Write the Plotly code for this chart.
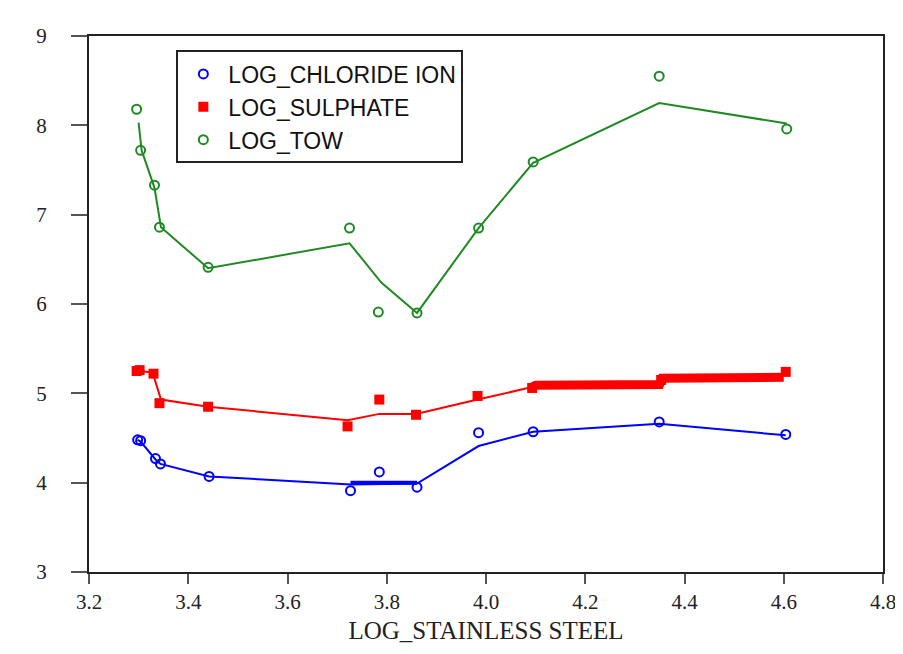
import plotly.graph_objects as go

# --- data ---
chl_x = [3.298, 3.304, 3.334, 3.344, 3.442, 3.727, 3.785, 3.861, 3.985, 4.095, 4.349, 4.604]
chl_y = [4.48, 4.47, 4.27, 4.21, 4.07, 3.91, 4.12, 3.95, 4.56, 4.57, 4.68, 4.54]
chl_fit_x = [3.298, 3.304, 3.334, 3.344, 3.442, 3.727, 3.861, 3.985, 4.095, 4.349, 4.604]
chl_fit_y = [4.48, 4.46, 4.26, 4.21, 4.07, 3.98, 3.99, 4.41, 4.57, 4.66, 4.53]
chl_band_x = [3.727, 3.861]
chl_band_y = [4.00, 4.00]

sul_x = [3.296, 3.302, 3.330, 3.342, 3.440, 3.721, 3.785, 3.859, 3.983, 4.093, 4.353, 4.604]
sul_y = [5.25, 5.26, 5.22, 4.89, 4.85, 4.63, 4.93, 4.76, 4.97, 5.06, 5.15, 5.24]
sul_fit_x = [3.298, 3.320, 3.330, 3.345, 3.440, 3.721, 3.785, 3.859, 3.983, 4.093]
sul_fit_y = [5.25, 5.24, 5.20, 4.93, 4.85, 4.70, 4.77, 4.77, 4.93, 5.07]
sul_band_x = [4.093, 4.100, 4.350, 4.355, 4.600]
sul_band_y = [5.07, 5.09, 5.10, 5.17, 5.18]

tow_x = [3.296, 3.304, 3.332, 3.342, 3.440, 3.725, 3.783, 3.861, 3.985, 4.095, 4.349, 4.606]
tow_y = [8.18, 7.72, 7.33, 6.86, 6.41, 6.85, 5.91, 5.90, 6.85, 7.59, 8.55, 7.96]
tow_fit_x = [3.300, 3.306, 3.332, 3.345, 3.440, 3.725, 3.789, 3.861, 3.985, 4.095, 4.349, 4.606]
tow_fit_y = [8.03, 7.72, 7.30, 6.86, 6.40, 6.68, 6.24, 5.90, 6.85, 7.58, 8.25, 8.02]

x_ticks = [3.2, 3.4, 3.6, 3.8, 4.0, 4.2, 4.4, 4.6, 4.8]
y_ticks = [3, 4, 5, 6, 7, 8, 9]

BLUE, RED, GREEN = "#0000ff", "#ff0000", "#1f8a24"

fig = go.Figure()
# fit lines (no legend)
fig.add_trace(go.Scatter(x=chl_fit_x, y=chl_fit_y, mode="lines",
                         line=dict(color=BLUE, width=2), showlegend=False))
fig.add_trace(go.Scatter(x=chl_band_x, y=chl_band_y, mode="lines",
                         line=dict(color=BLUE, width=4), showlegend=False))
fig.add_trace(go.Scatter(x=sul_fit_x, y=sul_fit_y, mode="lines",
                         line=dict(color=RED, width=2), showlegend=False))
fig.add_trace(go.Scatter(x=sul_band_x, y=sul_band_y, mode="lines",
                         line=dict(color=RED, width=9), showlegend=False))
fig.add_trace(go.Scatter(x=tow_fit_x, y=tow_fit_y, mode="lines",
                         line=dict(color=GREEN, width=2), showlegend=False))
# points
fig.add_trace(go.Scatter(x=chl_x, y=chl_y, mode="markers", name="LOG_CHLORIDE ION",
                         marker=dict(symbol="circle-open", size=9, color=BLUE,
                                     line=dict(width=2, color=BLUE))))
fig.add_trace(go.Scatter(x=sul_x, y=sul_y, mode="markers", name="LOG_SULPHATE",
                         marker=dict(symbol="square", size=10, color=RED)))
fig.add_trace(go.Scatter(x=tow_x, y=tow_y, mode="markers", name="LOG_TOW",
                         marker=dict(symbol="circle-open", size=9, color=GREEN,
                                     line=dict(width=2, color=GREEN))))

serif = "Liberation Serif"
fig.update_layout(
    width=887, height=638,
    margin=dict(l=81, r=12, t=28, b=74),
    plot_bgcolor="white", paper_bgcolor="white",
    font=dict(family=serif, size=21, color="#222"),
    showlegend=True,
    legend=dict(x=0.11, y=0.973, xanchor="left", yanchor="top",
                bgcolor="white", bordercolor="#222", borderwidth=2,
                font=dict(family="Liberation Sans", size=23, color="#111"),
                itemwidth=40, tracegroupgap=0),
    xaxis=dict(range=[3.2, 4.8], tickvals=x_ticks,
               ticktext=[f"{v:.1f}" for v in x_ticks],
               tickfont=dict(family=serif, size=21),
               showgrid=False, zeroline=False, automargin=False,
               ticklabeloverflow="allow",
               showline=True, linecolor="#222", linewidth=2, mirror=True,
               ticks="outside", ticklen=10, tickwidth=2, tickcolor="#555",
               title=dict(text="LOG_STAINLESS STEEL", font=dict(family=serif, size=25), standoff=8)),
    yaxis=dict(range=[3, 9], tickvals=y_ticks,
               tickfont=dict(family=serif, size=21),
               showgrid=False, zeroline=False, automargin=False,
               ticklabeloverflow="allow",
               showline=True, linecolor="#222", linewidth=2, mirror=True,
               ticks="outside", ticklen=16, tickwidth=2, tickcolor="#555",
               ticklabelstandoff=20),
)

fig.write_html("out.html")
